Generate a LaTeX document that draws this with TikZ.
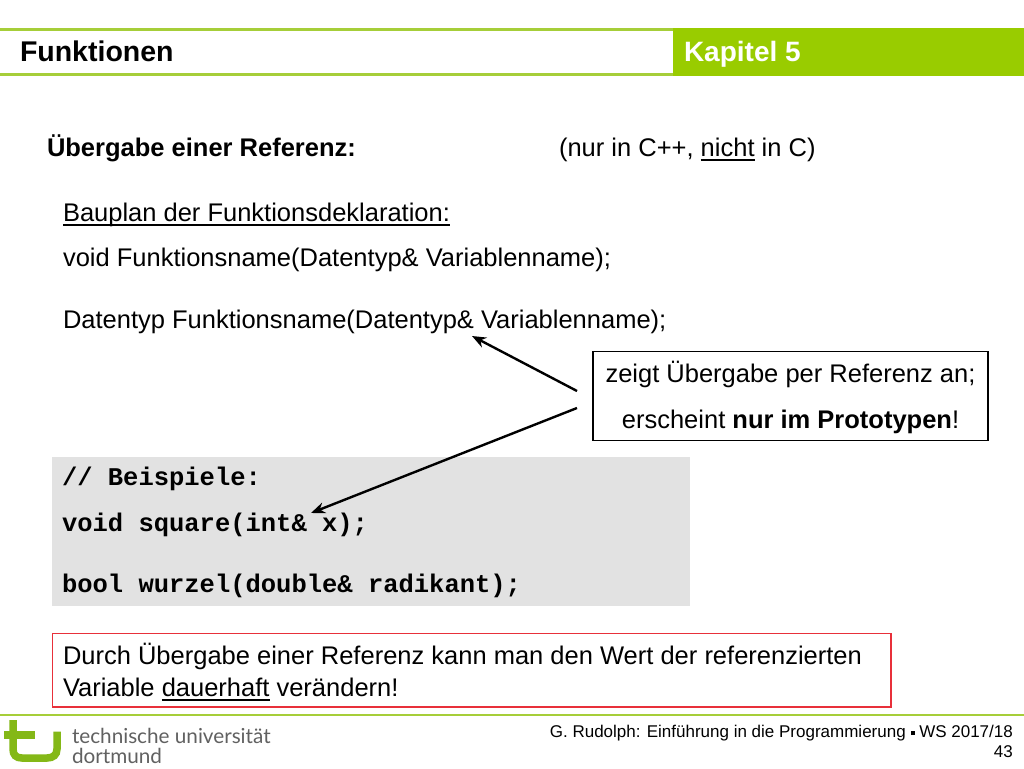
\documentclass[tikz,border=0pt]{standalone}
\usepackage{fontspec}
\setmainfont{Liberation Sans}
\setmonofont{Liberation Mono}
\newfontfamily\logofont{Lato}
\definecolor{tugreen}{HTML}{99CC00}
\definecolor{tuline}{HTML}{A6CE39}
\definecolor{codegray}{HTML}{E2E2E2}
\definecolor{logogreen}{HTML}{84B817}
\definecolor{redbox}{HTML}{E8303A}
\newcommand{\myul}[1]{\setbox0=\hbox{#1}\rlap{\rule[-4.5pt]{\wd0}{1.8pt}}\box0 }
\usetikzlibrary{arrows.meta}
\tikzset{
  x=1pt,y=-1pt,
  txt/.style={anchor=base west,inner sep=0pt,outer sep=0pt,font=\fontsize{25.5}{28}\selectfont,text=black},
  code/.style={anchor=base west,inner sep=0pt,outer sep=0pt,font=\fontsize{25.5}{28}\selectfont\ttfamily\bfseries,text=black},
  rule/.style={line width=2.2pt,tuline},
  arr/.style={line width=2.4pt,-{Stealth[length=14pt,width=11pt]},black},
  logotxt/.style={anchor=base west,inner sep=0pt,outer sep=0pt,font=\fontsize{20.7}{24}\logofont\selectfont,text=black!62},
  logostroke/.style={logogreen,line width=7.5pt},
}
\begin{document}
\begin{tikzpicture}
\useasboundingbox (0,0) rectangle (1024,768);
\fill[white] (0,0) rectangle (1024,768);
% header
\draw[rule] (0,29.5) -- (1024,29.5);
\draw[rule] (0,74.5) -- (1024,74.5);
\fill[tugreen] (673,28.5) rectangle (1024,75.5);
\node[txt,font=\fontsize{28.5}{30}\selectfont\bfseries] (title) at (20,62) {Funktionen};
\node[txt,font=\fontsize{28}{30}\selectfont\bfseries,text=white] (chap) at (684,62) {Kapitel 5};
% body
\node[txt,font=\fontsize{25.5}{28}\selectfont\bfseries] (t1) at (47,156.5) {Übergabe einer Referenz:};
\node[txt] (t2) at (559,156.5) {(nur in C++, \myul{nicht} in C)};
\node[txt] (t3) at (63,221) {\myul{Bauplan der Funktionsdeklaration:}};
\node[txt] (t4) at (63,266.5) {void Funktionsname(Datentyp\& Variablenname);};
\node[txt] (t5) at (63,328) {Datentyp Funktionsname(Datentyp\& Variablenname);};
% note box
\draw[black,line width=1.7pt] (593,351.5) rectangle (988,440.5);
\node[txt,anchor=base] (n1) at (790.5,382) {zeigt Übergabe per Referenz an;};
\node[txt,anchor=base] (n2) at (790.5,428) {erscheint \textbf{nur im Prototypen}!};
% code
\fill[codegray] (52,457) rectangle (690,606);
\node[code] (c1) at (62,485) {// Beispiele:};
\node[code] (c2) at (62,531) {void square(int\& x);};
\node[code] (c3) at (62,592) {bool wurzel(double\& radikant);};
% arrows
\coordinate (a1) at (577,391);
\coordinate (a2) at (577,408);
\coordinate (h1) at (472,336);
\coordinate (h2) at (311,513);
\draw[arr] (a1) -- (h1);
\draw[arr] (a2) -- (h2);
% red box
\draw[redbox,line width=1.7pt] (52.5,633.5) rectangle (891,707);
\node[txt] (r1) at (63,664) {Durch Übergabe einer Referenz kann man den Wert der referenzierten};
\node[txt] (r2) at (63,696) {Variable \myul{dauerhaft} verändern!};
% footer
\draw[rule] (0,715) -- (1024,715);
\node[anchor=base east,inner sep=0pt,font=\fontsize{17}{18}\selectfont] (f1) at (1013,737) {G. Rudolph: Einführung in die Programmierung \raisebox{2pt}{\rule{4pt}{4pt}} WS 2017/18};
\node[anchor=base east,inner sep=0pt,font=\fontsize{17}{18}\selectfont] (f2) at (1013,757.5) {43};
% logo
\draw[logostroke] (4,735) -- (35,735);
\draw[logostroke] (13,720) -- (13,749)
  .. controls (13,755) and (16,758) .. (22,758) -- (47,758)
  .. controls (53,758) and (57,755) .. (57,749) -- (57,731.5);
\node[logotxt] (l1) at (72,743) {technische universität};
\node[logotxt] (l2) at (72,763) {dortmund};
\end{tikzpicture}
\end{document}
